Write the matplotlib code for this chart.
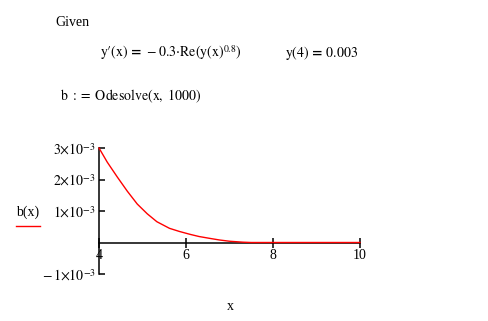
import matplotlib.pyplot as plt
from matplotlib.lines import Line2D

plt.rcParams['font.family'] = ['Liberation Serif', 'DejaVu Serif']
plt.rcParams['mathtext.fontset'] = 'stix'

# solution b(x) (y in units of 1e-3)
x_vals = [4.0, 4.19, 4.42, 4.65, 4.88, 5.11, 5.33, 5.62, 5.85, 6.09,
          6.30, 6.55, 6.77, 7.0, 7.31, 7.5, 8.0, 9.0, 10.0]
b_vals = [3.0, 2.55, 2.08, 1.63, 1.22, 0.91, 0.66, 0.45, 0.35, 0.26,
          0.19, 0.13, 0.08, 0.04, 0.01, 0.0, 0.0, 0.0, 0.0]

x_ticks = [4, 6, 8, 10]
x_tick_labels = ['4', '6', '8', '10']
y_ticks = [-1e-3, 1e-3, 2e-3, 3e-3]
y_tick_labels = [r'$-\,1{\times}10^{-3}$', r'$1{\times}10^{-3}$',
                 r'$2{\times}10^{-3}$', r'$3{\times}10^{-3}$']

W, H = 488, 321
fig = plt.figure(figsize=(W / 100, H / 100), dpi=100)

def px(x, y):
    return x / W, 1 - y / H

ax = fig.add_axes([99 / W, 1 - 274 / H, 261 / W, 126 / H])
ax.plot(x_vals, [v * 1e-3 for v in b_vals], color='#ff0000', lw=1.0,
        clip_on=False, zorder=3)

ax.set_xlim(4, 10)
ax.set_ylim(-1e-3, 3e-3)
for s in ['top', 'right']:
    ax.spines[s].set_visible(False)
ax.spines['left'].set_position(('data', 4))
ax.spines['bottom'].set_position(('data', 0))
ax.spines['left'].set_linewidth(1.1)
ax.spines['bottom'].set_linewidth(1.1)

ax.set_xticks(x_ticks)
ax.set_xticklabels(x_tick_labels, fontsize=10)
ax.set_yticks(y_ticks)
ax.set_yticklabels(y_tick_labels, fontsize=10)
ax.tick_params(axis='x', direction='inout', length=7, width=1.1, pad=1)
ax.tick_params(axis='y', direction='in', length=4, width=1.1, pad=2)

# worksheet text
fig.text(*px(55, 26), 'Given', fontsize=10, va='baseline')
fig.text(*px(100, 57),
         "$\\mathrm{y\u2032(x)}\\,\\mathbf{=}\\,-0.3{\\cdot}\\mathrm{Re}"
         "\\left(\\mathrm{y(x)}^{0.8}\\right)$",
         fontsize=10, va='baseline')
fig.text(*px(285, 57), r'$\mathrm{y(4)}\,\mathbf{=}\,0.003$', fontsize=10,
         va='baseline')
fig.text(*px(60, 100), r'$\mathrm{b}\ :=\ \mathrm{Odesolve(x,\ 1000)}$',
         fontsize=10, va='baseline')

# axis labels
fig.text(*px(28, 216), 'b(x)', fontsize=10, ha='center', va='baseline')
fig.add_artist(Line2D([16 / W, 40 / W], [1 - 226 / H, 1 - 226 / H],
                      color='#ff0000', lw=1.0))
fig.text(*px(230, 310), 'x', fontsize=10, ha='center', va='baseline')

fig.savefig('out.png', dpi=100)
